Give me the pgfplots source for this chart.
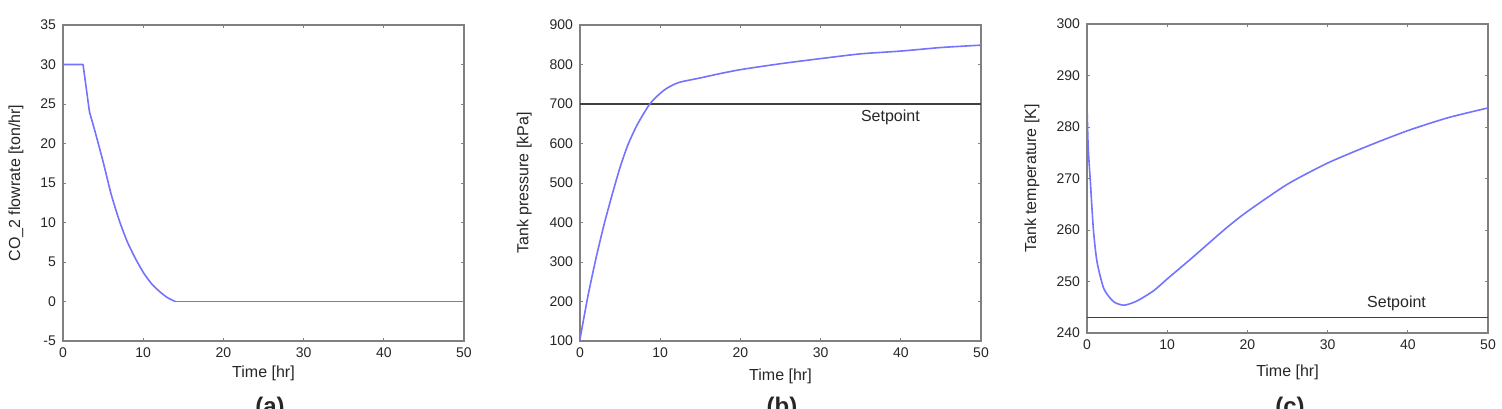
\documentclass[border=0pt]{standalone}
\usepackage{fontspec}
\setmainfont{Liberation Sans}
\usepackage{pgfplots}
\pgfplotsset{compat=1.18}
\definecolor{mblue}{rgb}{0.45,0.45,1}
\pgfplotsset{
  mystyle/.style={
    scale only axis, width=200.5pt, anchor=south west,
    xmin=0, xmax=50, xtick={0,10,...,50},
    tick align=inside, major tick length=1.7pt,
    axis line style={black!50, line width=0.6pt},
    every tick/.style={black!50, line width=0.5pt},
    tick label style={font=\fontsize{7}{8}\selectfont, text=black!85},
    label style={font=\fontsize{8}{9}\selectfont, text=black!85},
    /pgf/number format/assume math mode=true,
    xlabel={Time [hr]},
  },
  curve/.style={mblue, line width=0.8pt, line join=round},
  setp/.style={black!75, line width=0.7pt},
}
\begin{document}
\begin{tikzpicture}
\useasboundingbox (0,0) rectangle (751pt,204pt);
% (a)
\begin{axis}[mystyle, at={(31.5pt,33.5pt)}, height=158pt,
  ymin=-5, ymax=35, ytick={-5,0,...,35},
  ylabel={CO\_2 flowrate [ton/hr]},
  ylabel style={at={(axis description cs:-0.117,0.5)}, anchor=center},
  xlabel style={at={(axis description cs:0.5,-0.101)}, anchor=center}]
\addplot[curve] coordinates {(0,30)(2.5,30)(3.3,24)};
\addplot[curve, smooth, tension=0.35] coordinates {(3.3,24)(4,21.5)(5,17.7)(6,13.6)(7,10.3)(8,7.6)(9,5.5)(10,3.7)(11,2.3)(12,1.3)(13,0.5)(14,0)};
\addplot[curve] coordinates {(14,0)(50,0)};
\end{axis}
% (b)
\begin{axis}[mystyle, at={(290pt,33.5pt)}, height=158pt,
  ymin=100, ymax=900, ytick={100,200,...,900},
  ylabel={Tank pressure [kPa]},
  ylabel style={at={(axis description cs:-0.139,0.5)}, anchor=center},
  xlabel style={at={(axis description cs:0.5,-0.111)}, anchor=center}]
\addplot[setp] coordinates {(0,700)(50,700)};
\addplot[curve, smooth, tension=0.4] coordinates {(0,105)(1,215)(2,310)(3,395)(4,470)(5,540)(6,598)(7.2,650)(8.7,700)(10,727)(11,742)(12.4,755)(15,766)(17,775)(20,787)(25,802)(30,815)(35,827)(40,834)(45,843)(50,849)};
\node[font=\fontsize{8}{9}\selectfont, text=black!85] at (axis cs:38.7,667) {Setpoint};
\end{axis}
% (c)
\begin{axis}[mystyle, at={(543.5pt,37.5pt)}, height=154.5pt,
  ymin=240, ymax=300, ytick={240,250,...,300},
  ylabel={Tank temperature [K]},
  ylabel style={at={(axis description cs:-0.137,0.5)}, anchor=center},
  xlabel style={at={(axis description cs:0.5,-0.126)}, anchor=center}]
\addplot[setp] coordinates {(0,243)(50,243)};
\addplot[curve, smooth, tension=0.4] coordinates {(0,284)(0.15,276)(0.4,269.8)(0.8,260)(1.25,253.8)(2.1,248.6)(3.3,246.1)(4.6,245.4)(6.2,246.2)(8.3,248.2)(10,250.5)(13.1,254.6)(17.3,260.3)(20,263.6)(25,268.9)(30,273)(35,276.3)(40,279.3)(45,281.8)(50,283.7)};
\node[font=\fontsize{8}{9}\selectfont, text=black!85] at (axis cs:38.6,245.8) {Setpoint};
\end{axis}
\node[font=\bfseries\fontsize{12}{14}\selectfont, anchor=north, inner sep=0pt, text=black!85] at (135pt,5.7pt) {(a)};
\node[font=\bfseries\fontsize{12}{14}\selectfont, anchor=north, inner sep=0pt, text=black!85] at (391pt,5.7pt) {(b)};
\node[font=\bfseries\fontsize{12}{14}\selectfont, anchor=north, inner sep=0pt, text=black!85] at (645pt,5.7pt) {(c)};
\end{tikzpicture}
\end{document}
